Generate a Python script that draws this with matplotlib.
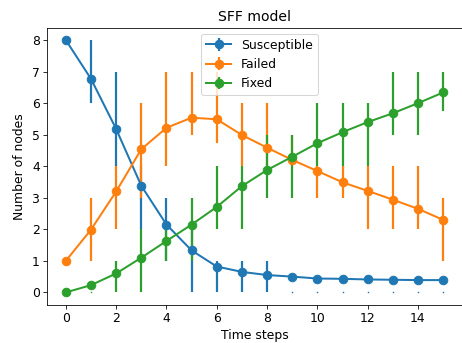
import numpy as np
import matplotlib
matplotlib.use("Agg")
import matplotlib.pyplot as plt

steps = list(range(16))

# mean values per time step
susceptible = [8.0, 6.77, 5.18, 3.38, 2.15, 1.33, 0.82, 0.65, 0.55, 0.50, 0.44, 0.43, 0.41, 0.40, 0.39, 0.39]
failed = [1.0, 1.99, 3.2, 4.54, 5.22, 5.54, 5.49, 4.99, 4.59, 4.2, 3.85, 3.49, 3.22, 2.94, 2.65, 2.30]
fixed = [0.0, 0.23, 0.60, 1.10, 1.63, 2.15, 2.71, 3.37, 3.88, 4.3, 4.73, 5.08, 5.40, 5.68, 6.0, 6.34]

# lower / upper quartiles
susceptible_lo = [8, 6, 4, 2, 1, 0, 0, 0, 0, 0, 0, 0, 0, 0, 0, 0]
susceptible_hi = [8, 8, 7, 4, 3, 2, 1, 1, 1, 0, 0, 0, 0, 0, 0, 0]
failed_lo = [1, 1, 2, 3, 4, 5, 4.75, 4, 4, 4, 3, 3, 2, 2, 2, 1]
failed_hi = [1, 3, 4, 6, 7, 7, 7, 6, 6, 5, 4, 4, 4, 4, 4, 3]
fixed_lo = [0, 0, 0, 0, 1, 1, 2, 2, 3, 3, 4, 4, 4, 5, 5, 5.75]
fixed_hi = [0, 0, 1, 2, 2, 3, 4, 4, 5, 5, 6, 6, 6, 7, 7, 7]

plt.rcParams['font.size'] = 12.4


def draw(ax, mean, lo, hi, label, color):
    mean = np.array(mean, dtype=float)
    lo = np.array(lo, dtype=float)
    hi = np.array(hi, dtype=float)
    # quartile range not containing the mean -> collapsed bar at the quartile
    bad = (lo > mean) | (hi < mean)
    down = np.where(bad, 0, mean - lo)
    up = np.where(bad, 0, hi - mean)
    ax.errorbar(steps, mean, yerr=[down, up], marker='o', markersize=8.5,
                linewidth=2, elinewidth=2.2, color=color, label=label)
    x = np.array(steps)
    ax.plot(x[bad], lo[bad], linestyle='none', marker='s', markersize=1.4,
            markeredgewidth=0, color=color)


fig = plt.figure(figsize=(6.4, 343 / 72.34), dpi=72.34)
ax = fig.add_subplot(111)

draw(ax, susceptible, susceptible_lo, susceptible_hi, "Susceptible", "C0")
draw(ax, failed, failed_lo, failed_hi, "Failed", "C1")
draw(ax, fixed, fixed_lo, fixed_hi, "Fixed", "C2")

ax.set_xticks([0, 2, 4, 6, 8, 10, 12, 14])
ax.set_yticks(range(9))
ax.set_title("SFF model", fontsize=13.9)
ax.set_xlabel("Time steps")
ax.set_ylabel("Number of nodes", labelpad=6)
ax.legend(loc='upper center', bbox_to_anchor=(0.512, 1))

fig.subplots_adjust(left=47 / 463, right=462 / 463, top=1 - 27.5 / 343, bottom=1 - 305 / 343)
fig.savefig("out.png", dpi=72.34)
